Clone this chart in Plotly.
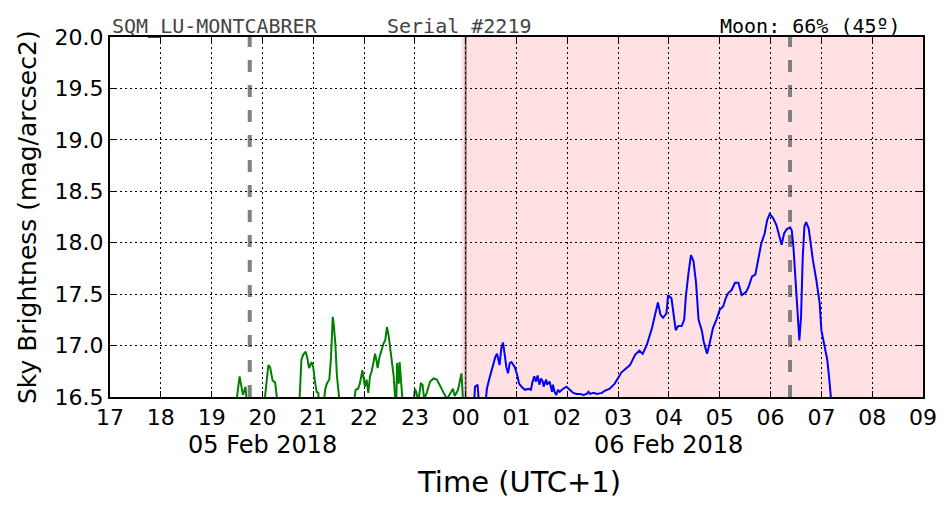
import plotly.graph_objects as go

# ---- data ----
green_time = ["19:27", "19:29", "19:33", "19:37", "19:40", "19:42", "19:55", "20:03", "20:07", "20:09",
              "20:12", "20:15", "20:17", "20:18", "20:42", "20:44", "20:46", "20:48", "20:51", "20:53",
              "20:55", "20:58", "21:00", "21:02", "21:04", "21:06", "21:08", "21:11", "21:14", "21:16",
              "21:19", "21:21", "21:23", "21:24", "21:26", "21:28", "21:31", "21:33", "21:46", "21:50",
              "21:53", "21:55", "21:58", "22:01", "22:03", "22:05", "22:07", "22:09", "22:11", "22:13",
              "22:15", "22:16", "22:18", "22:21", "22:23", "22:25", "22:27", "22:29", "22:31", "22:33",
              "22:35", "22:37", "22:38", "22:39", "22:41", "22:42", "22:44", "22:46", "22:57", "23:00",
              "23:02", "23:04", "23:07", "23:09", "23:11", "23:14", "23:18", "23:22", "23:26", "23:30",
              "23:34", "23:38", "23:43", "23:45", "23:47", "23:51", "23:53", "23:55", "23:57"]
green_val = [16.30, 16.45, 16.70, 16.52, 16.60, 16.40, 16.30, 16.50, 16.81, 16.79,
             16.66, 16.64, 16.50, 16.30, 16.30, 16.50, 16.86, 16.91, 16.94, 16.88,
             16.78, 16.84, 16.79, 16.65, 16.55, 16.54, 16.30, 16.30, 16.57, 16.63,
             16.67, 16.89, 17.28, 17.22, 17.03, 16.70, 16.45, 16.30, 16.30, 16.57,
             16.58, 16.63, 16.76, 16.60, 16.67, 16.54, 16.70, 16.75, 16.83, 16.92,
             16.84, 16.78, 16.88, 16.97, 17.02, 17.05, 17.18, 17.10, 16.96, 16.84,
             16.70, 16.45, 16.40, 16.83, 16.63, 16.84, 16.57, 16.40, 16.30, 16.58,
             16.54, 16.45, 16.63, 16.62, 16.48, 16.54, 16.65, 16.68, 16.67, 16.60,
             16.54, 16.48, 16.55, 16.58, 16.51, 16.57, 16.65, 16.73, 16.45]

blue_time = ["00:10", "00:11", "00:14", "00:15", "00:17", "00:22", "00:25", "00:28", "00:31", "00:35",
             "00:37", "00:40", "00:42", "00:44", "00:46", "00:48", "00:50", "00:52", "00:54", "00:56",
             "00:58", "01:01", "01:03", "01:06", "01:10", "01:14", "01:17", "01:19", "01:21", "01:23",
             "01:25", "01:27", "01:29", "01:31", "01:32", "01:35", "01:36", "01:39", "01:42", "01:43",
             "01:45", "01:47", "01:49", "01:51", "01:55", "01:59", "02:03", "02:07", "02:11", "02:15",
             "02:19", "02:23", "02:25", "02:27", "02:31", "02:35", "02:41", "02:44", "02:50", "02:56",
             "03:04", "03:14", "03:20", "03:25", "03:29", "03:34", "03:40", "03:44", "03:47", "03:50",
             "03:53", "03:57", "03:59", "04:03", "04:06", "04:08", "04:11", "04:15", "04:18", "04:20",
             "04:23", "04:26", "04:29", "04:32", "04:35", "04:39", "04:41", "04:45", "04:48", "04:52",
             "04:56", "05:00", "05:04", "05:07", "05:10", "05:14", "05:18", "05:22", "05:26", "05:31",
             "05:34", "05:38", "05:42", "05:45", "05:49", "05:53", "05:56", "05:59", "06:03", "06:07",
             "06:10", "06:13", "06:16", "06:19", "06:23", "06:25", "06:27", "06:29", "06:31", "06:33",
             "06:34", "06:36", "06:38", "06:40", "06:42", "06:45", "06:47", "06:50", "06:54", "06:58",
             "07:00", "07:04", "07:07", "07:09", "07:11", "07:12"]
blue_val = [16.45, 16.60, 16.62, 16.45, 16.30, 16.30, 16.58, 16.68, 16.78, 16.89,
            16.92, 16.81, 16.97, 17.03, 16.92, 16.79, 16.73, 16.83, 16.84, 16.81,
            16.79, 16.71, 16.63, 16.60, 16.57, 16.58, 16.57, 16.65, 16.70, 16.65,
            16.71, 16.62, 16.68, 16.65, 16.60, 16.67, 16.62, 16.65, 16.55, 16.62,
            16.55, 16.52, 16.57, 16.55, 16.58, 16.60, 16.57, 16.54, 16.53, 16.53,
            16.52, 16.53, 16.55, 16.53, 16.54, 16.53, 16.54, 16.56, 16.58, 16.63,
            16.74, 16.81, 16.91, 16.95, 16.92, 17.01, 17.17, 17.30, 17.42, 17.30,
            17.27, 17.31, 17.49, 17.46, 17.28, 17.15, 17.19, 17.19, 17.25, 17.48,
            17.70, 17.88, 17.82, 17.61, 17.25, 17.14, 17.04, 16.92, 17.02, 17.17,
            17.25, 17.35, 17.38, 17.46, 17.51, 17.54, 17.61, 17.61, 17.49, 17.52,
            17.57, 17.67, 17.69, 17.83, 17.99, 18.09, 18.22, 18.28, 18.24, 18.17,
            18.07, 17.98, 18.09, 18.13, 18.15, 18.12, 17.96, 17.67, 17.48, 17.15,
            17.05, 17.28, 17.86, 18.16, 18.20, 18.14, 17.99, 17.83, 17.64, 17.41,
            17.15, 16.99, 16.86, 16.70, 16.52, 16.30]

day1 = "2018-02-05"
day2 = "2018-02-06"
x_start = day1 + " 17:00"
x_end = day2 + " 09:00"
night_start = day1 + " 23:55"
midnight = day2 + " 00:00"
twilight_marks = [day1 + " 19:45", day2 + " 06:23"]
date_labels = [("05 Feb 2018", day1 + " 20:00"), ("06 Feb 2018", day2 + " 04:00")]
y_range = [16.5, 20.0]

station = "SQM_LU-MONTCABRER"
serial = "Serial #2219"
moon = "Moon: 66% (45º)"

# ---- figure ----
fig = go.Figure()
fig.add_trace(go.Scatter(x=[day1 + " " + t for t in green_time], y=green_val, mode="lines",
                         line=dict(color="#008000", width=2), hoverinfo="skip"))
fig.add_trace(go.Scatter(x=[day2 + " " + t for t in blue_time], y=blue_val, mode="lines",
                         line=dict(color="#0000ff", width=2), hoverinfo="skip"))

shapes = [
    dict(type="rect", xref="x", yref="paper", x0=night_start, x1=x_end, y0=0, y1=1,
         fillcolor="#ffe1e4", line=dict(width=0), layer="below"),
    dict(type="line", xref="x", yref="paper", x0=midnight, x1=midnight, y0=0, y1=1,
         line=dict(color="#7f7070", width=2), layer="below"),
]
for t in twilight_marks:
    shapes.append(dict(type="line", xref="x", yref="paper", x0=t, x1=t, y0=0, y1=1,
                       line=dict(color="#808080", width=4, dash="12px,13px"), layer="between"))

axis_common = dict(showline=True, linewidth=2, linecolor="black", mirror="ticks",
                   ticks="inside", ticklen=6, tickwidth=1, tickcolor="black",
                   showgrid=True, gridcolor="black", gridwidth=1, griddash="2px,3px",
                   zeroline=False, tickfont=dict(size=22, color="black", family="DejaVu Sans"))

fig.update_layout(
    width=952, height=512,
    margin=dict(l=110, r=29, t=37, b=115),
    plot_bgcolor="white", paper_bgcolor="white",
    showlegend=False,
    font=dict(family="DejaVu Sans", color="black"),
    shapes=shapes,
    xaxis=dict(type="date", range=[x_start, x_end], tick0=x_start, dtick=3600000,
               tickformat="%H", **axis_common),
    yaxis=dict(range=y_range, dtick=0.5, tickformat=".1f", **axis_common),
)

annotations = [
    dict(text=station, xref="paper", yref="paper", x=0, y=1, xanchor="left", yanchor="bottom",
         showarrow=False, font=dict(family="DejaVu Sans Mono", size=20, color="#444444"), yshift=-3),
    dict(text=serial, xref="paper", yref="paper", x=0.3383, y=1, xanchor="left", yanchor="bottom",
         showarrow=False, font=dict(family="DejaVu Sans Mono", size=20, color="#444444"), yshift=-3),
    dict(text=moon, xref="paper", yref="paper", x=0.9754, y=1, xanchor="right", yanchor="bottom",
         showarrow=False, font=dict(family="DejaVu Sans Mono", size=20, color="black"), yshift=-3),
    dict(text="Sky Brightness (mag/arcsec2)", xref="paper", yref="paper", x=0, y=0.5,
         xanchor="center", yanchor="middle", textangle=-90, xshift=-83, showarrow=False,
         font=dict(size=25, color="black")),
    dict(text="Time (UTC+1)", xref="paper", yref="paper", x=0.5, y=0, xanchor="center",
         yanchor="middle", yshift=-85, xshift=2, showarrow=False, font=dict(size=29, color="black")),
]
for label, t in date_labels:
    annotations.append(dict(text=label, xref="x", yref="paper", x=t, y=0, xanchor="center",
                            yanchor="middle", yshift=-48, showarrow=False,
                            font=dict(size=24, color="black")))
fig.update_layout(annotations=annotations)

fig.write_html("out.html", config={"displayModeBar": False},
               post_script="document.body.style.margin='0';")
